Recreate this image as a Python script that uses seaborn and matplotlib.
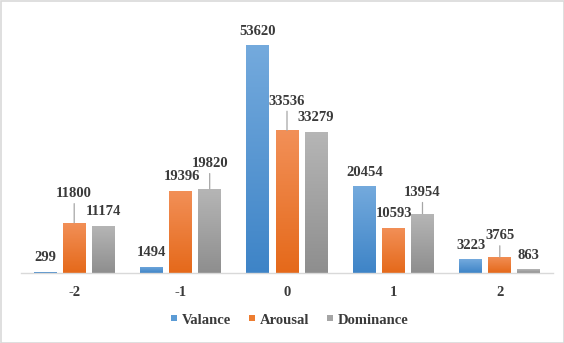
import numpy as np
import pandas as pd
import matplotlib
matplotlib.use("Agg")
import matplotlib.pyplot as plt
import seaborn as sns
from matplotlib.colors import LinearSegmentedColormap
from matplotlib.lines import Line2D
from matplotlib.patches import Rectangle

# ---- data ----
categories = ["-2", "-1", "0", "1", "2"]
series = ["Valance", "Arousal", "Dominance"]
valance = [299, 1494, 53620, 20454, 3223]
arousal = [11800, 19396, 33536, 10593, 3765]
dominance = [11174, 19820, 33279, 13954, 863]

# ---- styling ----
top_colors = ["#74AADD", "#F29058", "#B6B6B6"]
bottom_colors = ["#3E84C7", "#E5691A", "#8E8E8E"]
legend_colors = ["#5B9BD5", "#ED7D31", "#A5A5A5"]
text_color = "#3A3A3A"
font = "Liberation Serif"
fsize = 10.5
# label offsets in pixels above bar top (series index, category index) -> (dx, dy)
default_offset = (0, 14)
label_offsets = {
    (1, 0): (0, 29), (2, 1): (0, 25), (1, 2): (0, 29),
    (2, 3): (0, 21), (1, 4): (0, 21), (1, 1): (1, 14), (1, 3): (1, 14),
}
leader = {(1, 0), (2, 1), (1, 2), (2, 3), (1, 4)}

df = pd.DataFrame({
    "category": categories * 3,
    "series": sum([[s] * len(categories) for s in series], []),
    "value": valance + arousal + dominance,
})

sns.set_theme(style="white")
plt.rcParams["font.family"] = "serif"
plt.rcParams["font.serif"] = [font]

fig = plt.figure(figsize=(5.64, 3.43), dpi=100)
ax = fig.add_axes([21 / 564, 70 / 343, 532 / 564, 255 / 343])

sns.barplot(data=df, x="category", y="value", hue="series", order=categories,
            hue_order=series, palette=legend_colors, width=0.82, gap=0.21,
            dodge=True, ax=ax, legend=False, saturation=1, linewidth=0)

ax.set_xlim(-0.5, len(categories) - 0.5)
ax.set_ylim(0, 60000)

grad = np.linspace(0, 1, 256).reshape(-1, 1)
for si, cont in enumerate(ax.containers):
    cmap = LinearSegmentedColormap.from_list(f"g{si}", [bottom_colors[si], top_colors[si]])
    for ci, bar in enumerate(cont):
        x0, y0 = bar.get_x(), bar.get_y()
        w, h = bar.get_width(), bar.get_height()
        im = ax.imshow(grad, extent=[x0, x0 + w, y0, y0 + h], origin="lower",
                       cmap=cmap, aspect="auto", zorder=bar.get_zorder() + 0.1,
                       interpolation="bilinear")
        im.set_clip_path(bar)
        dx, dy = label_offsets.get((si, ci), default_offset)
        kw = {}
        if (si, ci) in leader:
            kw["arrowprops"] = dict(arrowstyle="-", color="#A6A6A6", lw=0.9,
                                    shrinkA=0, shrinkB=0)
        ax.annotate(f"{int(round(h))}", xy=(x0 + w / 2, h), xytext=(dx, dy),
                    textcoords="offset pixels", ha="center", va="center",
                    fontsize=fsize, fontweight="bold", color=text_color,
                    fontfamily=font, zorder=5, **kw)

ax.set_xlim(-0.5, len(categories) - 0.5)
ax.set_ylim(0, 60000)

for s in ["top", "left", "right"]:
    ax.spines[s].set_visible(False)
ax.spines["bottom"].set_color("#D9D9D9")
ax.spines["bottom"].set_linewidth(1.0)
ax.set_yticks([])
ax.set_xlabel("")
ax.set_ylabel("")
ax.tick_params(axis="x", length=0, pad=9, labelsize=fsize, labelcolor=text_color)
for t in ax.get_xticklabels():
    t.set_fontweight("bold")
    t.set_fontfamily(font)

handles = [Line2D([], [], marker="s", linestyle="none", markersize=5,
                  markerfacecolor=c, markeredgewidth=0) for c in legend_colors]
fig.legend(handles, series, loc="center", bbox_to_anchor=(289 / 564, 1 - 320 / 343),
           ncol=3, frameon=False, handlelength=0.6, handletextpad=0.25,
           columnspacing=1.1, prop={"family": font, "weight": "bold", "size": fsize},
           labelcolor=text_color)

fig.patches.append(Rectangle((0.5 / 564, 0.5 / 343), 1 - 1 / 564, 1 - 1 / 343,
                             transform=fig.transFigure, fill=False,
                             edgecolor="#D9D9D9", linewidth=1.2))

fig.savefig("out.png", dpi=100)
